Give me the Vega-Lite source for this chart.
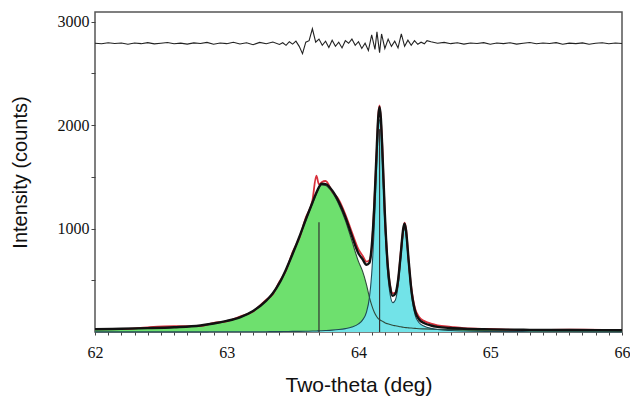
{
  "$schema": "https://vega.github.io/schema/vega-lite/v6.json",
  "width": 527,
  "height": 320,
  "autosize": "none",
  "padding": {"left": 95, "top": 12, "right": 8, "bottom": 72},
  "background": "white",
  "datasets": {
    "main": [
      {"x": 62.0, "g": 25, "c": 1, "t": 26, "o": 31},
      {"x": 62.2, "g": 30, "c": 1, "t": 31, "o": 28},
      {"x": 62.4, "g": 36, "c": 1, "t": 37, "o": 45},
      {"x": 62.6, "g": 45, "c": 1, "t": 46, "o": 56},
      {"x": 62.8, "g": 62, "c": 1, "t": 63, "o": 58},
      {"x": 62.9, "g": 80, "c": 2, "t": 82, "o": 88},
      {"x": 63.0, "g": 105, "c": 2, "t": 107, "o": 103},
      {"x": 63.1, "g": 140, "c": 2, "t": 142, "o": 150},
      {"x": 63.2, "g": 200, "c": 3, "t": 203, "o": 197},
      {"x": 63.3, "g": 300, "c": 3, "t": 303, "o": 313},
      {"x": 63.35, "g": 370, "c": 4, "t": 374, "o": 366},
      {"x": 63.4, "g": 470, "c": 4, "t": 474, "o": 486},
      {"x": 63.45, "g": 600, "c": 5, "t": 605, "o": 595},
      {"x": 63.5, "g": 750, "c": 6, "t": 756, "o": 771},
      {"x": 63.55, "g": 910, "c": 6, "t": 916, "o": 904},
      {"x": 63.6, "g": 1080, "c": 7, "t": 1087, "o": 1105},
      {"x": 63.65, "g": 1240, "c": 9, "t": 1249, "o": 1269},
      {"x": 63.68, "g": 1335, "c": 10, "t": 1345, "o": 1510},
      {"x": 63.7, "g": 1390, "c": 11, "t": 1401, "o": 1426},
      {"x": 63.72, "g": 1420, "c": 12, "t": 1432, "o": 1447},
      {"x": 63.75, "g": 1415, "c": 14, "t": 1429, "o": 1459},
      {"x": 63.8, "g": 1350, "c": 18, "t": 1368, "o": 1358},
      {"x": 63.85, "g": 1235, "c": 24, "t": 1259, "o": 1279},
      {"x": 63.9, "g": 1080, "c": 33, "t": 1113, "o": 1138},
      {"x": 63.95, "g": 880, "c": 48, "t": 928, "o": 963},
      {"x": 64.0, "g": 680, "c": 78, "t": 758, "o": 798},
      {"x": 64.03, "g": 590, "c": 115, "t": 705, "o": 740},
      {"x": 64.06, "g": 460, "c": 190, "t": 650, "o": 680},
      {"x": 64.083, "g": 335, "c": 334, "t": 669, "o": 694},
      {"x": 64.1, "g": 260, "c": 560, "t": 820, "o": 800},
      {"x": 64.12, "g": 190, "c": 1032, "t": 1222, "o": 1252},
      {"x": 64.14, "g": 145, "c": 1676, "t": 1821, "o": 1781},
      {"x": 64.15, "g": 130, "c": 1946, "t": 2076, "o": 2096},
      {"x": 64.16, "g": 120, "c": 2054, "t": 2174, "o": 2189},
      {"x": 64.17, "g": 112, "c": 1951, "t": 2063, "o": 2043},
      {"x": 64.18, "g": 105, "c": 1686, "t": 1791, "o": 1821},
      {"x": 64.2, "g": 90, "c": 1053, "t": 1143, "o": 1118},
      {"x": 64.22, "g": 80, "c": 596, "t": 676, "o": 696},
      {"x": 64.24, "g": 72, "c": 363, "t": 435, "o": 450},
      {"x": 64.26, "g": 65, "c": 284, "t": 349, "o": 374},
      {"x": 64.28, "g": 60, "c": 310, "t": 370, "o": 380},
      {"x": 64.3, "g": 55, "c": 442, "t": 497, "o": 482},
      {"x": 64.32, "g": 50, "c": 693, "t": 743, "o": 763},
      {"x": 64.34, "g": 46, "c": 958, "t": 1004, "o": 984},
      {"x": 64.35, "g": 44, "c": 1002, "t": 1046, "o": 1056},
      {"x": 64.36, "g": 42, "c": 948, "t": 990, "o": 1005},
      {"x": 64.38, "g": 40, "c": 661, "t": 701, "o": 691},
      {"x": 64.4, "g": 38, "c": 384, "t": 422, "o": 442},
      {"x": 64.43, "g": 35, "c": 164, "t": 199, "o": 224},
      {"x": 64.46, "g": 32, "c": 89, "t": 121, "o": 146},
      {"x": 64.5, "g": 30, "c": 55, "t": 85, "o": 105},
      {"x": 64.55, "g": 28, "c": 35, "t": 63, "o": 81},
      {"x": 64.6, "g": 26, "c": 24, "t": 50, "o": 65},
      {"x": 64.7, "g": 24, "c": 14, "t": 38, "o": 50},
      {"x": 64.8, "g": 22, "c": 9, "t": 31, "o": 37},
      {"x": 65.0, "g": 20, "c": 5, "t": 25, "o": 29},
      {"x": 65.3, "g": 18, "c": 3, "t": 21, "o": 19},
      {"x": 65.6, "g": 17, "c": 2, "t": 19, "o": 22},
      {"x": 66.0, "g": 16, "c": 1, "t": 17, "o": 19}
    ],
    "diff": [
      {"x": 62.0, "d": 2790}, {"x": 62.05, "d": 2785}, {"x": 62.1, "d": 2795}, {"x": 62.15, "d": 2788},
      {"x": 62.2, "d": 2792}, {"x": 62.25, "d": 2780}, {"x": 62.3, "d": 2793}, {"x": 62.35, "d": 2786},
      {"x": 62.4, "d": 2796}, {"x": 62.45, "d": 2784}, {"x": 62.5, "d": 2790}, {"x": 62.55, "d": 2797},
      {"x": 62.6, "d": 2785}, {"x": 62.65, "d": 2791}, {"x": 62.7, "d": 2782}, {"x": 62.75, "d": 2794},
      {"x": 62.8, "d": 2788}, {"x": 62.85, "d": 2798}, {"x": 62.9, "d": 2780}, {"x": 62.95, "d": 2792},
      {"x": 63.0, "d": 2786}, {"x": 63.05, "d": 2800}, {"x": 63.1, "d": 2783}, {"x": 63.15, "d": 2795},
      {"x": 63.2, "d": 2776}, {"x": 63.25, "d": 2798}, {"x": 63.3, "d": 2785}, {"x": 63.35, "d": 2802},
      {"x": 63.4, "d": 2778}, {"x": 63.425, "d": 2795}, {"x": 63.45, "d": 2770}, {"x": 63.475, "d": 2805},
      {"x": 63.5, "d": 2782}, {"x": 63.525, "d": 2810}, {"x": 63.55, "d": 2760}, {"x": 63.575, "d": 2690},
      {"x": 63.6, "d": 2800}, {"x": 63.625, "d": 2815}, {"x": 63.65, "d": 2930}, {"x": 63.675, "d": 2800},
      {"x": 63.7, "d": 2830}, {"x": 63.725, "d": 2770}, {"x": 63.75, "d": 2810}, {"x": 63.775, "d": 2750},
      {"x": 63.8, "d": 2820}, {"x": 63.825, "d": 2760}, {"x": 63.85, "d": 2800}, {"x": 63.875, "d": 2745},
      {"x": 63.9, "d": 2815}, {"x": 63.925, "d": 2790}, {"x": 63.95, "d": 2830}, {"x": 63.975, "d": 2770},
      {"x": 64.0, "d": 2805}, {"x": 64.025, "d": 2740}, {"x": 64.05, "d": 2790}, {"x": 64.075, "d": 2720},
      {"x": 64.1, "d": 2870}, {"x": 64.125, "d": 2730}, {"x": 64.14, "d": 2900}, {"x": 64.16, "d": 2700},
      {"x": 64.175, "d": 2880}, {"x": 64.2, "d": 2740}, {"x": 64.225, "d": 2830}, {"x": 64.25, "d": 2760},
      {"x": 64.275, "d": 2810}, {"x": 64.3, "d": 2745}, {"x": 64.325, "d": 2880}, {"x": 64.35, "d": 2760},
      {"x": 64.375, "d": 2820}, {"x": 64.4, "d": 2770}, {"x": 64.425, "d": 2815}, {"x": 64.45, "d": 2780},
      {"x": 64.475, "d": 2800}, {"x": 64.5, "d": 2785}, {"x": 64.52, "d": 2815}, {"x": 64.55, "d": 2805},
      {"x": 64.6, "d": 2790}, {"x": 64.65, "d": 2798}, {"x": 64.7, "d": 2786}, {"x": 64.75, "d": 2795},
      {"x": 64.8, "d": 2782}, {"x": 64.85, "d": 2792}, {"x": 64.9, "d": 2787}, {"x": 64.95, "d": 2796},
      {"x": 65.0, "d": 2780}, {"x": 65.05, "d": 2792}, {"x": 65.1, "d": 2786}, {"x": 65.15, "d": 2795},
      {"x": 65.2, "d": 2782}, {"x": 65.25, "d": 2790}, {"x": 65.3, "d": 2797}, {"x": 65.35, "d": 2785},
      {"x": 65.4, "d": 2793}, {"x": 65.45, "d": 2788}, {"x": 65.5, "d": 2796}, {"x": 65.55, "d": 2781},
      {"x": 65.6, "d": 2791}, {"x": 65.65, "d": 2786}, {"x": 65.7, "d": 2794}, {"x": 65.75, "d": 2780},
      {"x": 65.8, "d": 2790}, {"x": 65.85, "d": 2795}, {"x": 65.9, "d": 2785}, {"x": 65.95, "d": 2792},
      {"x": 66.0, "d": 2788}
    ],
    "rules": [
      {"x": 63.70, "y0": 0, "y": 1060},
      {"x": 64.16, "y0": 0, "y": 1960}
    ]
  },
  "encoding": {
    "x": {"field": "x", "type": "quantitative", "scale": {"domain": [62, 66], "nice": false, "zero": false},
      "title": "Two-theta (deg)",
      "axis": {
        "values": [62, 62.1, 62.2, 62.3, 62.4, 62.5, 62.6, 62.7, 62.8, 62.9, 63, 63.1, 63.2, 63.3, 63.4, 63.5, 63.6, 63.7, 63.8, 63.9, 64, 64.1, 64.2, 64.3, 64.4, 64.5, 64.6, 64.7, 64.8, 64.9, 65, 65.1, 65.2, 65.3, 65.4, 65.5, 65.6, 65.7, 65.8, 65.9, 66],
        "labelExpr": "abs(datum.value - round(datum.value)) < 0.001 ? format(datum.value, 'd') : ''",
        "labelOverlap": false,
        "tickSize": 3, "labelPadding": 9, "labelFontSize": 16, "labelFlush": false,
        "titleFontSize": 21, "titleY": 53, "titleBaseline": "middle"
      }}
  },
  "layer": [
    {
      "data": {"name": "main"},
      "mark": {"type": "area", "interpolate": "monotone", "color": "#6ee06e"},
      "encoding": {
        "y": {"field": "g", "type": "quantitative", "scale": {"domain": [0, 3092], "nice": false},
          "title": "Intensity (counts)",
          "axis": {
            "values": [500, 1000, 1500, 2000, 2500, 3000],
            "labelExpr": "datum.value % 1000 === 0 ? format(datum.value, 'd') : ''",
            "labelOverlap": false,
            "tickSize": 4, "labelPadding": 2, "labelFontSize": 16,
            "titleFontSize": 20, "titleX": -75, "titleY": 160, "titleAngle": -90, "titleAlign": "center", "titleBaseline": "middle"
          }}
      }
    },
    {
      "data": {"name": "main"},
      "mark": {"type": "area", "interpolate": "monotone", "color": "#72e3e8"},
      "encoding": {
        "y": {"field": "c", "type": "quantitative", "scale": {"domain": [0, 3092], "nice": false}, "title": "Intensity (counts)"}
      }
    },
    {
      "data": {"name": "main"},
      "mark": {"type": "line", "interpolate": "monotone", "color": "#2f4a3a", "strokeWidth": 1.1},
      "encoding": {
        "y": {"field": "g", "type": "quantitative", "scale": {"domain": [0, 3092], "nice": false}, "title": "Intensity (counts)"}
      }
    },
    {
      "data": {"name": "main"},
      "mark": {"type": "line", "interpolate": "monotone", "color": "#1f4a55", "strokeWidth": 1.1},
      "encoding": {
        "y": {"field": "c", "type": "quantitative", "scale": {"domain": [0, 3092], "nice": false}, "title": "Intensity (counts)"}
      }
    },
    {
      "data": {"name": "rules"},
      "mark": {"type": "rule", "color": "#333333", "strokeWidth": 1.2},
      "encoding": {
        "y": {"field": "y0", "type": "quantitative", "scale": {"domain": [0, 3092], "nice": false}, "title": "Intensity (counts)"},
        "y2": {"field": "y"}
      }
    },
    {
      "data": {"name": "main"},
      "mark": {"type": "line", "interpolate": "monotone", "color": "#d8303c", "strokeWidth": 1.8},
      "encoding": {
        "y": {"field": "o", "type": "quantitative", "scale": {"domain": [0, 3092], "nice": false}, "title": "Intensity (counts)"}
      }
    },
    {
      "data": {"name": "main"},
      "mark": {"type": "line", "interpolate": "monotone", "color": "#111111", "strokeWidth": 2.4},
      "encoding": {
        "y": {"field": "t", "type": "quantitative", "scale": {"domain": [0, 3092], "nice": false}, "title": "Intensity (counts)"}
      }
    },
    {
      "data": {"name": "diff"},
      "mark": {"type": "line", "color": "#222222", "strokeWidth": 1.1},
      "encoding": {
        "y": {"field": "d", "type": "quantitative", "scale": {"domain": [0, 3092], "nice": false}, "title": "Intensity (counts)"}
      }
    }
  ],
  "config": {
    "view": {"stroke": "#555555", "strokeWidth": 1.5},
    "axis": {
      "grid": false, "domain": false, "tickColor": "#444444", "tickWidth": 1, "labelOverlap": false,
      "labelFont": "Liberation Serif", "labelColor": "#111111",
      "titleFont": "Liberation Sans", "titleFontWeight": "normal", "titleColor": "#111111"
    },
    "axisX": {"labelOverlap": false}
  }
}
